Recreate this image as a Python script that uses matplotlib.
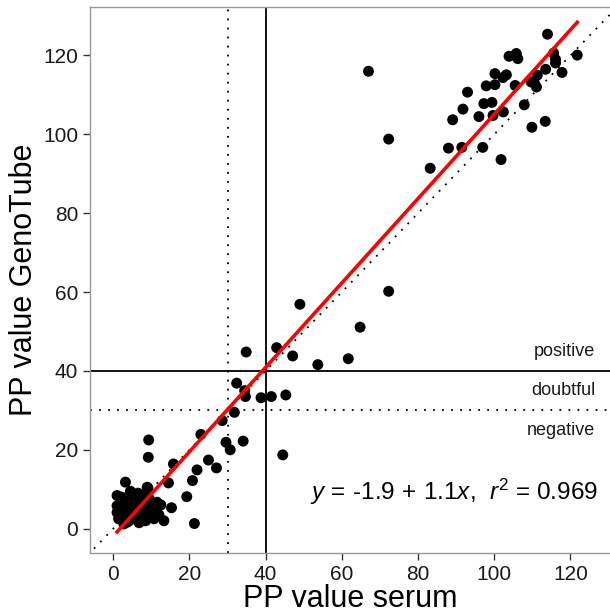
import numpy as np
import matplotlib
matplotlib.use('Agg')
import matplotlib.pyplot as plt

plt.rcParams['font.family'] = ['Liberation Sans', 'DejaVu Sans']
plt.rcParams['mathtext.fontset'] = 'custom'
plt.rcParams['mathtext.rm'] = 'Liberation Sans'
plt.rcParams['mathtext.it'] = 'Liberation Sans:italic'

# PP values (serum vs GenoTube)
serum = [
    1.0, 1.0, 1.0, 1.4, 3.6, 6.2, 8.5, 10.7, 13.3, 11.1, 4.5, 5.4, 3.2, 8.0,
    3.2, 8.9, 14.5, 7.2, 11.5, 15.3, 2.0, 2.5, 4.0, 5.0, 6.0, 7.0, 9.0, 6.5,
    4.2, 2.2, 9.5, 10.0, 12.0, 3.0, 5.5, 7.5, 1.5, 4.5, 6.8, 8.3, 2.8, 12.5,
    5.8, 7.8,
    21.3, 9.1, 19.3, 20.8, 22.0, 27.1, 25.0, 15.8, 9.2, 9.3, 30.7, 29.6, 34.1,
    23.0, 28.6, 31.8, 34.7, 34.5, 32.4, 38.8, 41.5, 45.3, 44.5, 34.9, 42.9,
    47.1, 53.7, 61.7, 64.8, 49.0, 72.3, 72.3, 67.0, 83.2,
    114.0, 115.6, 116.1, 116.1, 121.8, 117.8, 113.5, 111.3, 109.7, 110.6,
    111.1, 105.5, 103.9, 105.8, 106.2, 100.2, 103.2, 102.3, 97.9, 100.2,
    93.0, 97.3, 99.4, 91.8, 96.0, 99.7, 102.4, 107.9, 89.1, 109.9, 113.4,
    88.0, 91.5, 97.0, 101.8,
]
genotube = [
    8.4, 5.8, 4.1, 2.5, 1.6, 2.9, 2.0, 2.5, 2.0, 4.1, 6.7, 4.6, 3.7, 5.4,
    11.8, 10.5, 11.6, 7.9, 6.7, 5.3, 6.0, 3.0, 5.0, 8.0, 6.0, 4.0, 4.0, 9.0,
    2.0, 8.0, 7.5, 5.5, 3.5, 6.5, 3.0, 6.0, 4.5, 9.5, 1.5, 8.5, 1.2, 6.0,
    5.5, 3.3,
    1.3, 10.3, 8.1, 12.2, 14.9, 15.4, 17.4, 16.4, 18.1, 22.5, 20.0, 21.9, 22.2,
    23.9, 27.4, 29.5, 33.5, 35.0, 36.9, 33.2, 33.5, 33.9, 18.7, 44.8, 45.9,
    43.8, 41.6, 43.1, 51.1, 56.9, 60.2, 98.8, 116.0, 91.4,
    125.4, 120.6, 119.0, 118.1, 120.1, 115.7, 116.5, 115.0, 113.3, 112.9,
    112.0, 112.4, 119.8, 120.5, 119.2, 115.4, 115.1, 114.4, 112.3, 112.6,
    110.7, 107.8, 108.1, 106.4, 104.5, 104.8, 105.7, 107.5, 103.7, 101.8, 103.3,
    96.5, 96.7, 96.7, 93.6,
]

# regression line y = a + b*x and cut-offs
fit_a, fit_b = -1.9, 1.07
r2 = 0.969
cut_pos, cut_neg = 40, 30
zone_labels = ['positive', 'doubtful', 'negative']
zone_y = [45, 35, 25]
ticks = [0, 20, 40, 60, 80, 100, 120]

serum = np.array(serum)
genotube = np.array(genotube)

fig = plt.figure(figsize=(6.1, 6.16), dpi=100)
ax = fig.add_axes([90 / 610, 1 - 552.7 / 616, 520 / 610, (552.7 - 7) / 616])

ax.set_xlim(-6.1, 130.4)
ax.set_ylim(-6.1, 132.3)

# identity line
ident = np.array([-10, 140])
ax.plot(ident, ident, color='black', ls=(0, (1, 4)), lw=1.3, zorder=1)

# cut-off lines
ax.axvline(cut_pos, color='black', lw=1.3, zorder=1)
ax.axhline(cut_pos, color='black', lw=1.3, zorder=1)
ax.axvline(cut_neg, color='black', ls=(0, (1, 4)), lw=1.3, zorder=1)
ax.axhline(cut_neg, color='black', ls=(0, (1, 4)), lw=1.3, zorder=1)

ax.scatter(serum, genotube, s=62, color='black', edgecolors='none', zorder=2)

xf = np.array([serum.min(), serum.max()])
ax.plot(xf, fit_a + fit_b * xf, color='red', lw=2.6, zorder=3)

for lab, yy in zip(zone_labels, zone_y):
    ax.text(126.5, yy, lab, ha='right', va='center', fontsize=13, color='#1a1a1a')

ax.text(89.5, 9.2, r'$y\,=\,$-1.9$\,+\,$1.1$x$,  $r^2$ = %.3f' % r2,
        ha='center', va='center', fontsize=17.5, color='black')

ax.set_xticks(ticks)
ax.set_yticks(ticks)
ax.tick_params(labelsize=15, length=5, width=1, color='#333333', labelcolor='#1a1a1a')
ax.set_xlabel('PP value serum', fontsize=22, labelpad=0)
ax.set_ylabel('PP value GenoTube', fontsize=22, labelpad=3)

for side in ['left', 'bottom', 'top']:
    ax.spines[side].set_color('#999999')
    ax.spines[side].set_linewidth(1)
ax.spines['right'].set_visible(False)

fig.savefig('out.png', dpi=100)
